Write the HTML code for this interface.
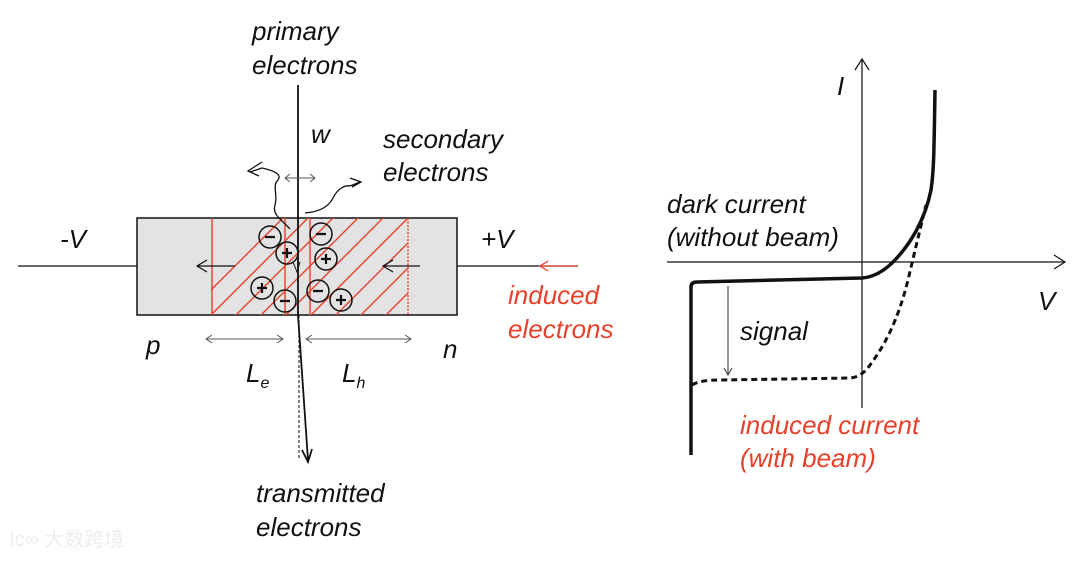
<!DOCTYPE html>
<html><head><meta charset="utf-8"><style>
body{margin:0;background:#fff;}
svg text{font-family:"Liberation Sans",sans-serif;font-style:italic;font-size:26px;fill:#111;}
</style></head><body>
<svg width="1080" height="558" viewBox="0 0 1080 558" xmlns="http://www.w3.org/2000/svg">
<defs>
<clipPath id="hc"><rect x="211" y="218" width="197" height="97"/></clipPath>
</defs>
<rect x="137" y="218" width="320" height="97" fill="#e3e3e3" stroke="#111" stroke-width="1.5"/>
<g clip-path="url(#hc)" stroke="#e8402a" stroke-width="1.4">
<path d="M106 395 L286 215 M131 395 L311 215 M156 395 L336 215 M181 395 L361 215 M206 395 L386 215 M231 395 L411 215 M256 395 L436 215 M281 395 L461 215 M306 395 L486 215 M331 395 L511 215 M356 395 L536 215 M381 395 L561 215 M406 395 L586 215 M431 395 L611 215"/>
</g>
<g stroke="#e8402a" stroke-width="1.4">
<line x1="212" y1="218" x2="212" y2="315"/>
<line x1="285" y1="218" x2="285" y2="315"/>
<line x1="310" y1="218" x2="310" y2="315"/>
<line x1="408" y1="218" x2="408" y2="315" stroke-dasharray="2,1.5"/>
</g>
<line x1="18" y1="266" x2="137" y2="266" stroke="#111" stroke-width="1.3"/>
<line x1="457" y1="266" x2="578" y2="266" stroke="#111" stroke-width="1.3"/>
<path d="M578 266 L540 266 M548 261 L540 266 L548 271" stroke="#e8402a" stroke-width="1.3" fill="none"/>
<path d="M235 266 L197 266 M207 260 L197 266 L207 272" stroke="#111" stroke-width="1.2" fill="none"/>
<path d="M420 266 L383 266 M393 260 L383 266 L393 272" stroke="#111" stroke-width="1.2" fill="none"/>
<line x1="298" y1="85" x2="298" y2="315" stroke="#111" stroke-width="1.8"/>
<line x1="299" y1="315" x2="299" y2="460" stroke="#333" stroke-width="1.2" stroke-dasharray="3,2"/>
<path d="M298 315 L308 460 M302 450 L308 462 L312 449" stroke="#111" stroke-width="1.8" fill="none"/>
<path d="M286 178 L314 178 M290 174 L285 178 L290 182 M310 174 L315 178 L310 182" stroke="#555" stroke-width="1" fill="none"/>
<path d="M290 229 C282 220 272 215 275 205 C278 195 272 185 278 180 C283 173 270 170 262 168 L250 172 M262 162 L248 171 L259 176" stroke="#111" stroke-width="1.3" fill="none"/>
<path d="M305 213 C318 212 328 208 333 198 C338 188 345 185 350 186 L360 182 M350 178 L361 182 L352 187" stroke="#111" stroke-width="1.3" fill="none"/>
<path d="M293 262 L297 272 L300 262" stroke="#111" stroke-width="1" fill="none"/>
<g stroke="#111" stroke-width="1.5" fill="none">
<circle cx="270" cy="237" r="11"/><circle cx="287" cy="253" r="11"/>
<circle cx="321" cy="234" r="11"/><circle cx="326" cy="259" r="11"/>
<circle cx="262" cy="288" r="11"/><circle cx="285" cy="301" r="11"/>
<circle cx="318" cy="291" r="11"/><circle cx="341" cy="300" r="11"/>
</g>
<g stroke="#111" stroke-width="2.2">
<path d="M265 237h10 M316 234h10 M280 301h10 M313 291h10"/>
<path d="M282 253h10 M287 248v10 M321 259h10 M326 254v10 M257 288h10 M262 283v10 M336 300h10 M341 295v10"/>
</g>
<path d="M207 339 L282 339 M212 335 L206 339 L212 343 M277 335 L283 339 L277 343" stroke="#555" stroke-width="1" fill="none"/>
<path d="M307 339 L410 339 M312 335 L306 339 L312 343 M405 335 L411 339 L405 343" stroke="#555" stroke-width="1" fill="none"/>
<text x="252" y="40">primary</text>
<text x="252" y="74">electrons</text>
<text x="311" y="143">w</text>
<text x="383" y="148">secondary</text>
<text x="383" y="181">electrons</text>
<text x="60" y="248">-V</text>
<text x="481" y="248">+V</text>
<text x="508" y="304" style="fill:#e8402a">induced</text>
<text x="508" y="338" style="fill:#e8402a">electrons</text>
<text x="146" y="354">p</text>
<text x="443" y="358">n</text>
<text x="246" y="382">L<tspan font-size="16" dy="6">e</tspan></text>
<text x="342" y="382">L<tspan font-size="16" dy="6">h</tspan></text>
<text x="256" y="502">transmitted</text>
<text x="256" y="536">electrons</text>
<line x1="862" y1="60" x2="862" y2="408" stroke="#111" stroke-width="1.2"/>
<path d="M855 70 L862 59 L869 70" stroke="#111" stroke-width="1.2" fill="none"/>
<line x1="667" y1="262" x2="1065" y2="262" stroke="#111" stroke-width="1.2"/>
<path d="M1054 255 L1065 262 L1054 269" stroke="#111" stroke-width="1.2" fill="none"/>
<path d="M691 455 L691 287 Q691 282 697 282 L862 278 C875 277 885 270 893 262 C910 245 925 220 931 190 C934 170 934 150 935 90" stroke="#111" stroke-width="3.5" fill="none"/>
<path d="M692 385 Q700 380 720 380 L850 378 Q862 377 870 365 C885 345 898 320 908 280 C915 250 920 230 926 205" stroke="#111" stroke-width="3" fill="none" stroke-dasharray="6,4"/>
<path d="M728 286 L728 374 M724 368 L728 375 L732 368" stroke="#333" stroke-width="1" fill="none"/>
<text x="837" y="95">I</text>
<text x="667" y="213">dark current</text>
<text x="667" y="246">(without beam)</text>
<text x="1038" y="310">V</text>
<text x="740" y="340">signal</text>
<text x="740" y="434" style="fill:#e8402a">induced current</text>
<text x="740" y="467" style="fill:#e8402a">(with beam)</text>
<text x="10" y="546" style="font-style:normal;font-size:20px;fill:#eee;font-family:'Liberation Sans','Noto Sans CJK SC',sans-serif">lc∞ 大数跨境</text>
</svg>
</body></html>
